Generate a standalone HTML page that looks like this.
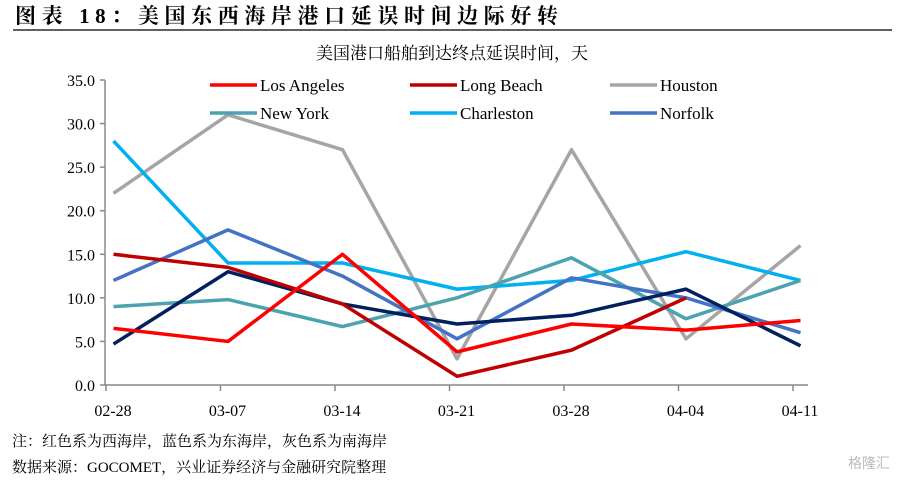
<!DOCTYPE html>
<html><head><meta charset="utf-8"><style>
body{margin:0;background:#fff;width:899px;height:478px;overflow:hidden;font-family:"Liberation Serif","Noto Serif CJK SC",serif;}
</style></head><body>
<svg width="899" height="478" viewBox="0 0 899 478" xmlns="http://www.w3.org/2000/svg">
<text x="15" y="23" font-size="21" font-weight="bold" fill="#000" textLength="543" lengthAdjust="spacing" font-family="Liberation Serif, Noto Serif CJK SC, serif">图表 18：美国东西海岸港口延误时间边际好转</text>
<line x1="13" y1="30" x2="892" y2="30" stroke="#000" stroke-width="1.2"/>
<text x="452" y="59" font-size="17" text-anchor="middle" fill="#000" font-family="Liberation Serif, Noto Serif CJK SC, serif">美国港口船舶到达终点延误时间，天</text>
<g id="axes"></g>
<g id="series"></g>
<g id="legend"></g>
<text x="12" y="446" font-size="15" fill="#000" font-family="Liberation Serif, Noto Serif CJK SC, serif">注：红色系为西海岸，蓝色系为东海岸，灰色系为南海岸</text>
<text x="12" y="472" font-size="15" fill="#000" font-family="Liberation Serif, Noto Serif CJK SC, serif">数据来源：GOCOMET，兴业证券经济与金融研究院整理</text>
<text x="890" y="468" font-size="14" text-anchor="end" fill="#bbb" font-family="Liberation Sans, Noto Sans CJK SC, sans-serif">格隆汇</text>
</svg>
<script>
const categories=["02-28","03-07","03-14","03-21","03-28","04-04","04-11"];
const yTicks=[0,5,10,15,20,25,30,35];
const seriesNames=["Los Angeles","Long Beach","Houston","New York","Charleston","Norfolk","Unlabeled"];
const losAngeles=[6.5,5,15,3.8,7,6.3,7.4];
const longBeach=[15,13.5,9.3,1,4,10,null];
const houston=[22,31,27,3,27,5.3,16];
const newYork=[9,9.8,6.7,10,14.6,7.6,12];
const charleston=[28,14,14,11,12,15.3,12];
const norfolk=[12,17.8,12.5,5.3,12.3,10,6];
const navy=[4.7,13,9.3,7,8,11,4.5];
const NS="http://www.w3.org/2000/svg";
const y0=385,yTop=80,yMax=35;
function yS(v){return y0-(v/yMax)*(y0-yTop);}
function tickX(i){return 106+114.5*i;}
function xS(i){return tickX(i)+7.5;}
function mk(t,a,p){const e=document.createElementNS(NS,t);for(const k in a)e.setAttribute(k,a[k]);p.appendChild(e);return e;}
const ax=document.getElementById('axes');
let l=mk('line',{x1:105,y1:yTop,x2:105,y2:y0,stroke:'#898989','stroke-width':1.5},ax);


l=mk('line',{x1:105,y1:y0,x2:808,y2:y0,stroke:'#898989','stroke-width':1.5},ax);


yTicks.forEach(v=>{
 const t=mk('line',{x1:100,y1:yS(v),x2:105,y2:yS(v),stroke:'#898989','stroke-width':1.5},ax);
 
 
 const tx=mk('text',{x:95,y:yS(v)+6,'font-size':16,'text-anchor':'end',fill:'#000'},ax);
 tx.textContent=v.toFixed(1);
 
 
});
categories.forEach((c,i)=>{
 const t=mk('line',{x1:tickX(i),y1:y0,x2:tickX(i),y2:y0+6,stroke:'#898989','stroke-width':1.5},ax);
 
 
 const tx=mk('text',{x:tickX(i)+7,y:416,'font-size':16,'text-anchor':'middle',fill:'#000'},ax);
 tx.textContent=c;
 
 
});
const data=[losAngeles,longBeach,houston,newYork,charleston,norfolk,navy];
const colors=["#FF0000","#C00000","#A5A5A5","#4BA3B0","#00B0F0","#4472C4","#002060"];
const order=[2,4,3,5,6,1,0];
const sg=document.getElementById('series');
order.forEach(s=>{
 const pts=[];data[s].forEach((v,i)=>{if(v!==null)pts.push(xS(i)+','+yS(v));});
 const p=mk('polyline',{points:pts.join(' '),fill:'none',stroke:colors[s],'stroke-width':3.5,'stroke-linejoin':'round'},sg);
 
 
});
const lg=document.getElementById('legend');
for(let s=0;s<6;s++){
 const col=s%3,row=Math.floor(s/3);
 const x=210+col*200,y=85+row*28;
 const ln=mk('line',{x1:x,y1:y,x2:x+47,y2:y,stroke:colors[s],'stroke-width':3.5},lg);
 
 
 const tx=mk('text',{x:x+50,y:y+6,'font-size':17,fill:'#000'},lg);
 tx.textContent=seriesNames[s];
 
 
}
</script>
</body></html>
